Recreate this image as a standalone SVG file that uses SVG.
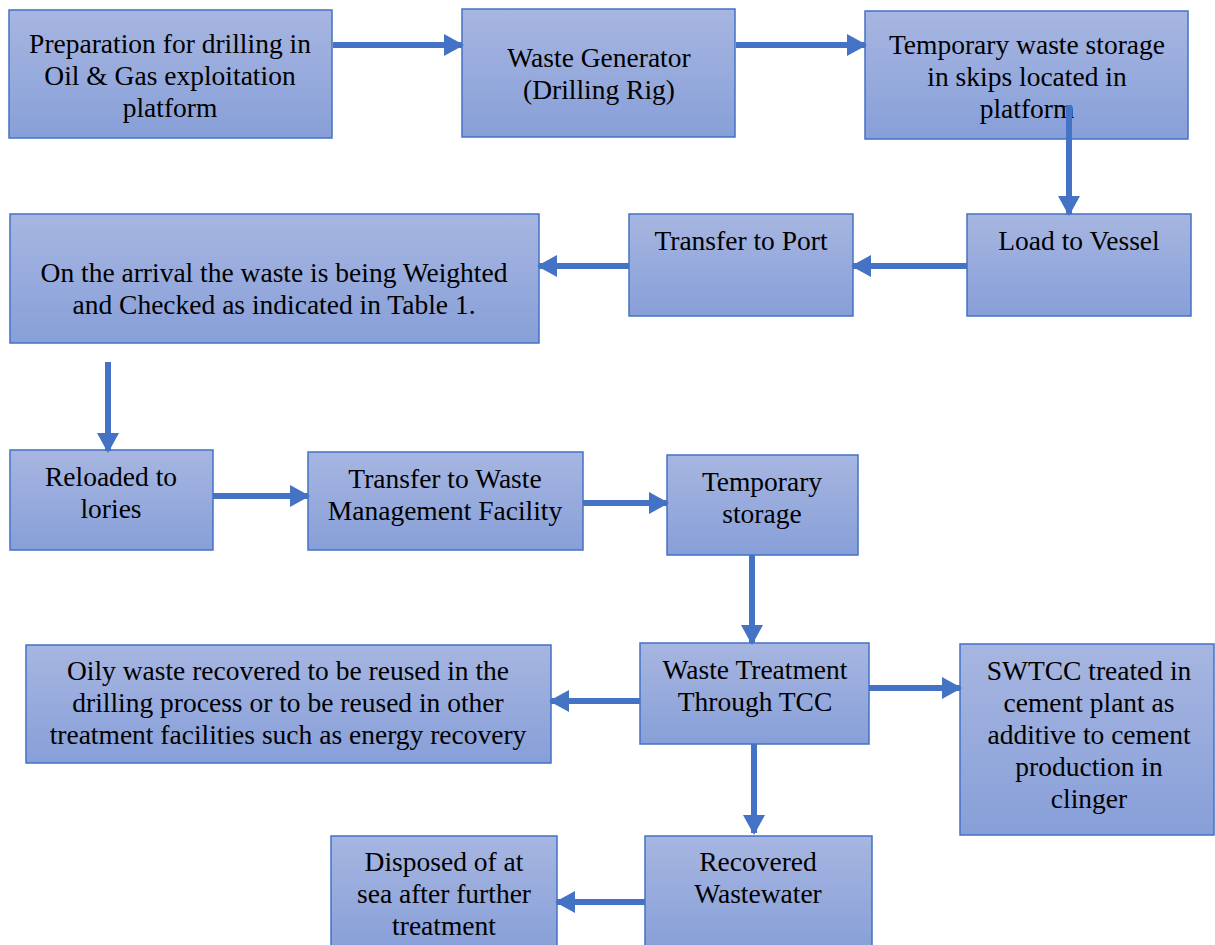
<svg xmlns="http://www.w3.org/2000/svg" width="1215" height="945" viewBox="0 0 1215 945">
  <defs>
    <linearGradient id="boxFill" x1="0" y1="0" x2="0" y2="1">
      <stop offset="0" stop-color="#a7b6e1"/>
      <stop offset="1" stop-color="#879fd8"/>
    </linearGradient>
    <marker id="head" markerUnits="userSpaceOnUse" markerWidth="20" markerHeight="22" refX="18" refY="11" orient="auto">
      <path d="M0,0 L20,11 L0,22 Z" fill="#4472c4"/>
    </marker>
  </defs>
  <style>
    .box { fill: url(#boxFill); stroke: #4472c4; stroke-width: 1.5; }
    .lbl { font-family: "Liberation Serif", "Times New Roman", serif; font-size: 27.5px; fill: #000; text-anchor: middle; }
    .conn { stroke: #4472c4; stroke-width: 6; fill: none; marker-end: url(#head); }
  </style>

  <g id="n-preparation">
    <rect class="box" x="9" y="10" width="323" height="128"/>
    <text class="lbl" x="170" y="53">Preparation for drilling in</text>
    <text class="lbl" x="170" y="85">Oil &amp; Gas exploitation</text>
    <text class="lbl" x="170" y="117">platform</text>
  </g>
  <g id="n-generator">
    <rect class="box" x="462" y="9" width="273" height="128"/>
    <text class="lbl" x="599" y="67">Waste Generator</text>
    <text class="lbl" x="599" y="99">(Drilling Rig)</text>
  </g>
  <g id="n-skips">
    <rect class="box" x="865" y="11" width="323" height="128"/>
    <text class="lbl" x="1027" y="54">Temporary waste storage</text>
    <text class="lbl" x="1027" y="86">in skips located in</text>
    <text class="lbl" x="1027" y="118">platform</text>
  </g>
  <g id="n-vessel">
    <rect class="box" x="967" y="214" width="224" height="102"/>
    <text class="lbl" x="1079" y="250">Load to Vessel</text>
  </g>
  <g id="n-port">
    <rect class="box" x="629" y="214" width="224" height="102"/>
    <text class="lbl" x="741" y="250">Transfer to Port</text>
  </g>
  <g id="n-arrival">
    <rect class="box" x="10" y="214" width="529" height="129"/>
    <text class="lbl" x="274" y="282">On the arrival the waste is being Weighted</text>
    <text class="lbl" x="274" y="314">and Checked as indicated in Table 1.</text>
  </g>
  <g id="n-reloaded">
    <rect class="box" x="10" y="450" width="203" height="100"/>
    <text class="lbl" x="111" y="486">Reloaded to</text>
    <text class="lbl" x="111" y="518">lories</text>
  </g>
  <g id="n-facility">
    <rect class="box" x="308" y="452" width="275" height="98"/>
    <text class="lbl" x="445" y="488">Transfer to Waste</text>
    <text class="lbl" x="445" y="520">Management Facility</text>
  </g>
  <g id="n-temp">
    <rect class="box" x="667" y="455" width="191" height="100"/>
    <text class="lbl" x="762" y="491">Temporary</text>
    <text class="lbl" x="762" y="523">storage</text>
  </g>
  <g id="n-tcc">
    <rect class="box" x="640" y="643" width="229" height="101"/>
    <text class="lbl" x="755" y="679">Waste Treatment</text>
    <text class="lbl" x="755" y="711">Through TCC</text>
  </g>
  <g id="n-oily">
    <rect class="box" x="26" y="645" width="525" height="118"/>
    <text class="lbl" x="288" y="680">Oily waste recovered to be reused in the</text>
    <text class="lbl" x="288" y="712">drilling process or to be reused in other</text>
    <text class="lbl" x="288" y="744">treatment facilities such as energy recovery</text>
  </g>
  <g id="n-swtcc">
    <rect class="box" x="960" y="644" width="254" height="191"/>
    <text class="lbl" x="1089" y="680">SWTCC treated in</text>
    <text class="lbl" x="1089" y="712">cement plant as</text>
    <text class="lbl" x="1089" y="744">additive to cement</text>
    <text class="lbl" x="1089" y="776">production in</text>
    <text class="lbl" x="1089" y="808">clinger</text>
  </g>
  <g id="n-wastewater">
    <rect class="box" x="645" y="836" width="227" height="115"/>
    <text class="lbl" x="758" y="871">Recovered</text>
    <text class="lbl" x="758" y="903">Wastewater</text>
  </g>
  <g id="n-disposed">
    <rect class="box" x="331" y="836" width="226" height="115"/>
    <text class="lbl" x="444" y="871">Disposed of at</text>
    <text class="lbl" x="444" y="903">sea after further</text>
    <text class="lbl" x="444" y="935">treatment</text>
  </g>

  <g id="connectors">
    <line class="conn" x1="333" y1="45" x2="462" y2="45"/>
    <line class="conn" x1="736" y1="45" x2="865" y2="45"/>
    <line class="conn" x1="1069" y1="105" x2="1069" y2="214"/>
    <line class="conn" x1="967" y1="266" x2="853" y2="266"/>
    <line class="conn" x1="629" y1="266" x2="539" y2="266"/>
    <line class="conn" x1="108" y1="362" x2="108" y2="451"/>
    <line class="conn" x1="213" y1="496" x2="308" y2="496"/>
    <line class="conn" x1="583" y1="503" x2="667" y2="503"/>
    <line class="conn" x1="752" y1="555" x2="752" y2="643"/>
    <line class="conn" x1="640" y1="701" x2="551" y2="701"/>
    <line class="conn" x1="869" y1="688" x2="960" y2="688"/>
    <line class="conn" x1="754" y1="744" x2="754" y2="833"/>
    <line class="conn" x1="645" y1="902" x2="557" y2="902"/>
  </g>
</svg>
